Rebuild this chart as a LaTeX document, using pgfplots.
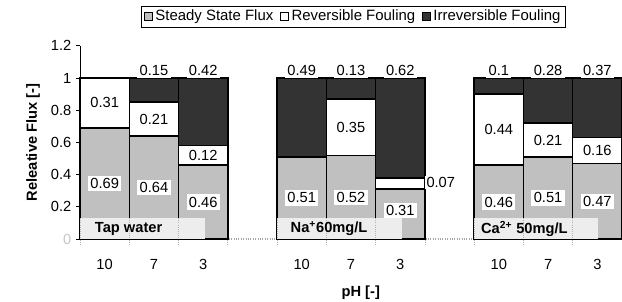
\documentclass[border=0pt]{standalone}
\usepackage{pgfplots}
\pgfplotsset{compat=1.18}
\usepackage{pgfplotstable}
\usepackage{fontspec}
\setmainfont{Liberation Sans}
\definecolor{steadyc}{HTML}{C0C0C0}
\definecolor{irrc}{HTML}{333333}
\definecolor{boxc}{HTML}{EDEDED}
\pgfplotstableread{
x steady rev irr
0 0.69 0.31 0
1 0.64 0.21 0.15
2 0.46 0.12 0.42
4 0.51 0 0.49
5 0.52 0.35 0.13
6 0.31 0.07 0.62
8 0.46 0.44 0.10
9 0.51 0.21 0.28
10 0.47 0.16 0.37
}\data
\tikzset{
  lbl/.style={fill=white, inner sep=1.8pt},
  glbl/.style={anchor=west, inner sep=0pt, font=\fontsize{11}{13}\selectfont\bfseries},
  sep/.style={gray!60, densely dotted, line width=0.6pt},
}
\pgfplotsset{common/.style={
  at={(0pt,0pt)}, anchor=south west,
  scale only axis, width=406.5pt, height=144.9pt,
  xmin=-0.5, xmax=10.5, ymin=0, ymax=1.2, clip=false}}
\begin{document}
\begin{tikzpicture}[font=\fontsize{11}{13}\selectfont]
\useasboundingbox (-60pt,-47.25pt) rectangle (406.5pt,179.25pt);
\begin{axis}[
  common,
  ybar stacked, bar width=1,
  axis x line*=bottom, axis y line*=left,
  x axis line style={gray!70, densely dotted, line width=0.8pt},
  y axis line style={black, line width=0.5pt},
  xtick={0,1,2,4,5,6,8,9,10},
  xticklabels={10,7,3,10,7,3,10,7,3},
  x tick style={draw=none},
  xticklabel style={yshift=-9pt},
  ytick={0.2,0.4,0.6,0.8,1,1.2},
  extra y ticks={0},
  extra y tick style={tick label style={text=gray!45}, tick style={gray!45}},
  tick align=outside, major tick length=3pt,
  y tick style={black, line width=0.5pt},
  /pgf/number format/assume math mode=true,
  xlabel={\bfseries pH [-]},
  xlabel style={at={(axis description cs:0.518,-0.28)}, anchor=center},
  ylabel={\bfseries Releative Flux [-]},
  ylabel style={at={(axis description cs:-0.0867,0.5)}, anchor=center},
  legend style={at={(axis description cs:0.5046,1.152)}, anchor=center,
    legend columns=3, draw=black, line width=0.5pt, inner xsep=2pt, inner ysep=1pt,
    /tikz/every even column/.append style={column sep=3pt},
    font=\fontsize{11.2}{13}\selectfont},
  legend image code/.code={\draw[#1, line width=0.7pt] (0pt,-3pt) rectangle (6pt,3pt);},
]
\addplot[fill=steadyc, draw=black, line width=1.1pt] table[x=x,y=steady]{\data};
\addlegendentry{Steady State Flux}
\addplot[fill=white, draw=black, line width=1.1pt] table[x=x,y=rev]{\data};
\addlegendentry{Reversible Fouling}
\addplot[fill=irrc, draw=black, line width=1.1pt] table[x=x,y=irr]{\data};
\addlegendentry{Irreversible Fouling}
\end{axis}
\begin{axis}[common, hide axis]
% steady state labels
\node[lbl] at (axis cs:0,0.345) {0.69};
\node[lbl] at (axis cs:1,0.32) {0.64};
\node[lbl] at (axis cs:2,0.23) {0.46};
\node[lbl] at (axis cs:4,0.255) {0.51};
\node[lbl] at (axis cs:5,0.26) {0.52};
\node[lbl] at (axis cs:6,0.175) {0.31};
\node[lbl] at (axis cs:8,0.23) {0.46};
\node[lbl] at (axis cs:9,0.255) {0.51};
\node[lbl] at (axis cs:10,0.235) {0.47};
% reversible labels
\node[lbl] at (axis cs:0,0.845) {0.31};
\node[lbl] at (axis cs:1,0.745) {0.21};
\node[lbl] at (axis cs:2,0.52) {0.12};
\node[lbl] at (axis cs:5,0.695) {0.35};
\node[lbl, anchor=west, inner sep=1pt] at (axis cs:6.5,0.35) {0.07};
\node[lbl] at (axis cs:8,0.68) {0.44};
\node[lbl] at (axis cs:9,0.615) {0.21};
\node[lbl] at (axis cs:10,0.55) {0.16};
% irreversible labels
\node[lbl, anchor=south] at (axis cs:1,1) {0.15};
\node[lbl, anchor=south] at (axis cs:2,1) {0.42};
\node[lbl, anchor=south] at (axis cs:4,1) {0.49};
\node[lbl, anchor=south] at (axis cs:5,1) {0.13};
\node[lbl, anchor=south] at (axis cs:6,1) {0.62};
\node[lbl, anchor=south] at (axis cs:8,1) {0.1};
\node[lbl, anchor=south] at (axis cs:9,1) {0.28};
\node[lbl, anchor=south] at (axis cs:10,1) {0.37};
% group label boxes
\fill[boxc] (axis cs:-0.5,0) rectangle (axis cs:2.04,0.13);
\fill[boxc] (axis cs:3.5,0) rectangle (axis cs:6.04,0.13);
\fill[boxc] (axis cs:7.5,0) rectangle (axis cs:10.01,0.13);
\draw[sep] (axis cs:-0.5,-0.035) -- (axis cs:-0.5,0.13);
\draw[sep] (axis cs:0.5,-0.035) -- (axis cs:0.5,0.13);
\draw[sep] (axis cs:1.5,-0.035) -- (axis cs:1.5,0.13);
\draw[sep] (axis cs:2.5,-0.035) -- (axis cs:2.5,0.0);
\draw[sep] (axis cs:3.5,-0.035) -- (axis cs:3.5,0.13);
\draw[sep] (axis cs:4.5,-0.035) -- (axis cs:4.5,0.13);
\draw[sep] (axis cs:5.5,-0.035) -- (axis cs:5.5,0.13);
\draw[sep] (axis cs:6.5,-0.035) -- (axis cs:6.5,0.0);
\draw[sep] (axis cs:7.5,-0.035) -- (axis cs:7.5,0.13);
\draw[sep] (axis cs:8.5,-0.035) -- (axis cs:8.5,0.13);
\draw[sep] (axis cs:9.5,-0.035) -- (axis cs:9.5,0.13);
\node[glbl, xshift=11pt] at (axis cs:-0.5,0.063) {Tap water};
\node[glbl, xshift=10pt] at (axis cs:3.5,0.063) {Na\textsuperscript{+}60mg/L};
\node[glbl, xshift=5pt] at (axis cs:7.5,0.063) {Ca\textsuperscript{2+} 50mg/L};
\end{axis}
\end{tikzpicture}
\end{document}
